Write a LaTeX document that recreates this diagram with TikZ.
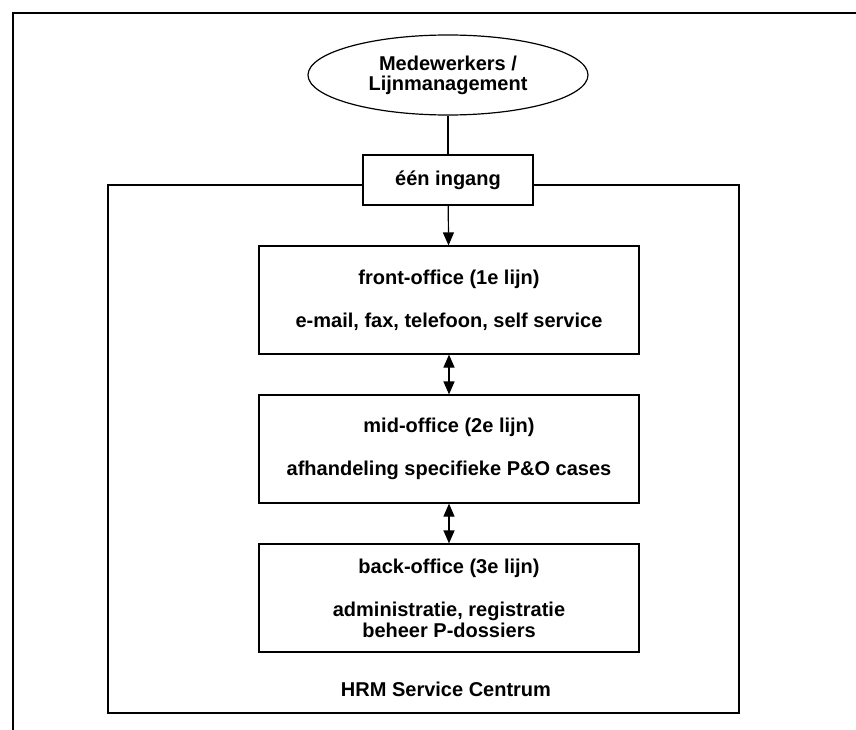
\documentclass[tikz,border=0pt]{standalone}
\usepackage{fontspec}
\setmainfont{Liberation Sans}
\usetikzlibrary{shapes.geometric}
\usetikzlibrary{arrows.meta}

\begin{document}
\begin{tikzpicture}[x=1pt,y=-1pt,line width=1.2pt,
   txt/.style={font=\fontsize{20}{22}\selectfont\bfseries,align=center},
   officebox/.style={txt,draw,fill=white,minimum width=380pt,minimum height=108pt,inner sep=0pt},
   tip/.style={-{Triangle[length=13pt,width=11pt]}},
   dbltip/.style={{Triangle[length=13pt,width=11pt]}-{Triangle[length=13pt,width=11pt]}}]
   \useasboundingbox (0,0) rectangle (856,730);

   % kaders
   \draw (13,730) -- (13,13) -- (856,13);
   \draw (108,185) rectangle (739,713);

   \node[txt,draw,ellipse,minimum width=280pt,minimum height=80pt,inner sep=0pt] (mw) at (448,75)
      {Medewerkers /\\[-2pt]Lijnmanagement};
   \node[txt,draw,fill=white,minimum width=170pt,minimum height=50pt,inner sep=0pt] (ingang) at (448,180) {één ingang};

   \node[officebox] (front) at (449,300) {front-office (1e lijn)\\[21pt]e-mail, fax, telefoon, self service};
   \node[officebox] (mid) at (449,449) {mid-office (2e lijn)\\[21pt]afhandeling specifieke P\&O cases};
   \node[officebox] (back) at (449,598) {back-office (3e lijn)\\[21pt]administratie, registratie\\[-1pt]beheer P-dossiers};
   \node[txt] (hrm) at (446,689) {HRM Service Centrum};

   \draw (mw) -- (ingang);
   \draw[tip] (ingang) -- (front);
   \foreach \a/\b in {front/mid,mid/back} {
      \draw[dbltip] (\a) -- (\b);
   }
\end{tikzpicture}
\end{document}
